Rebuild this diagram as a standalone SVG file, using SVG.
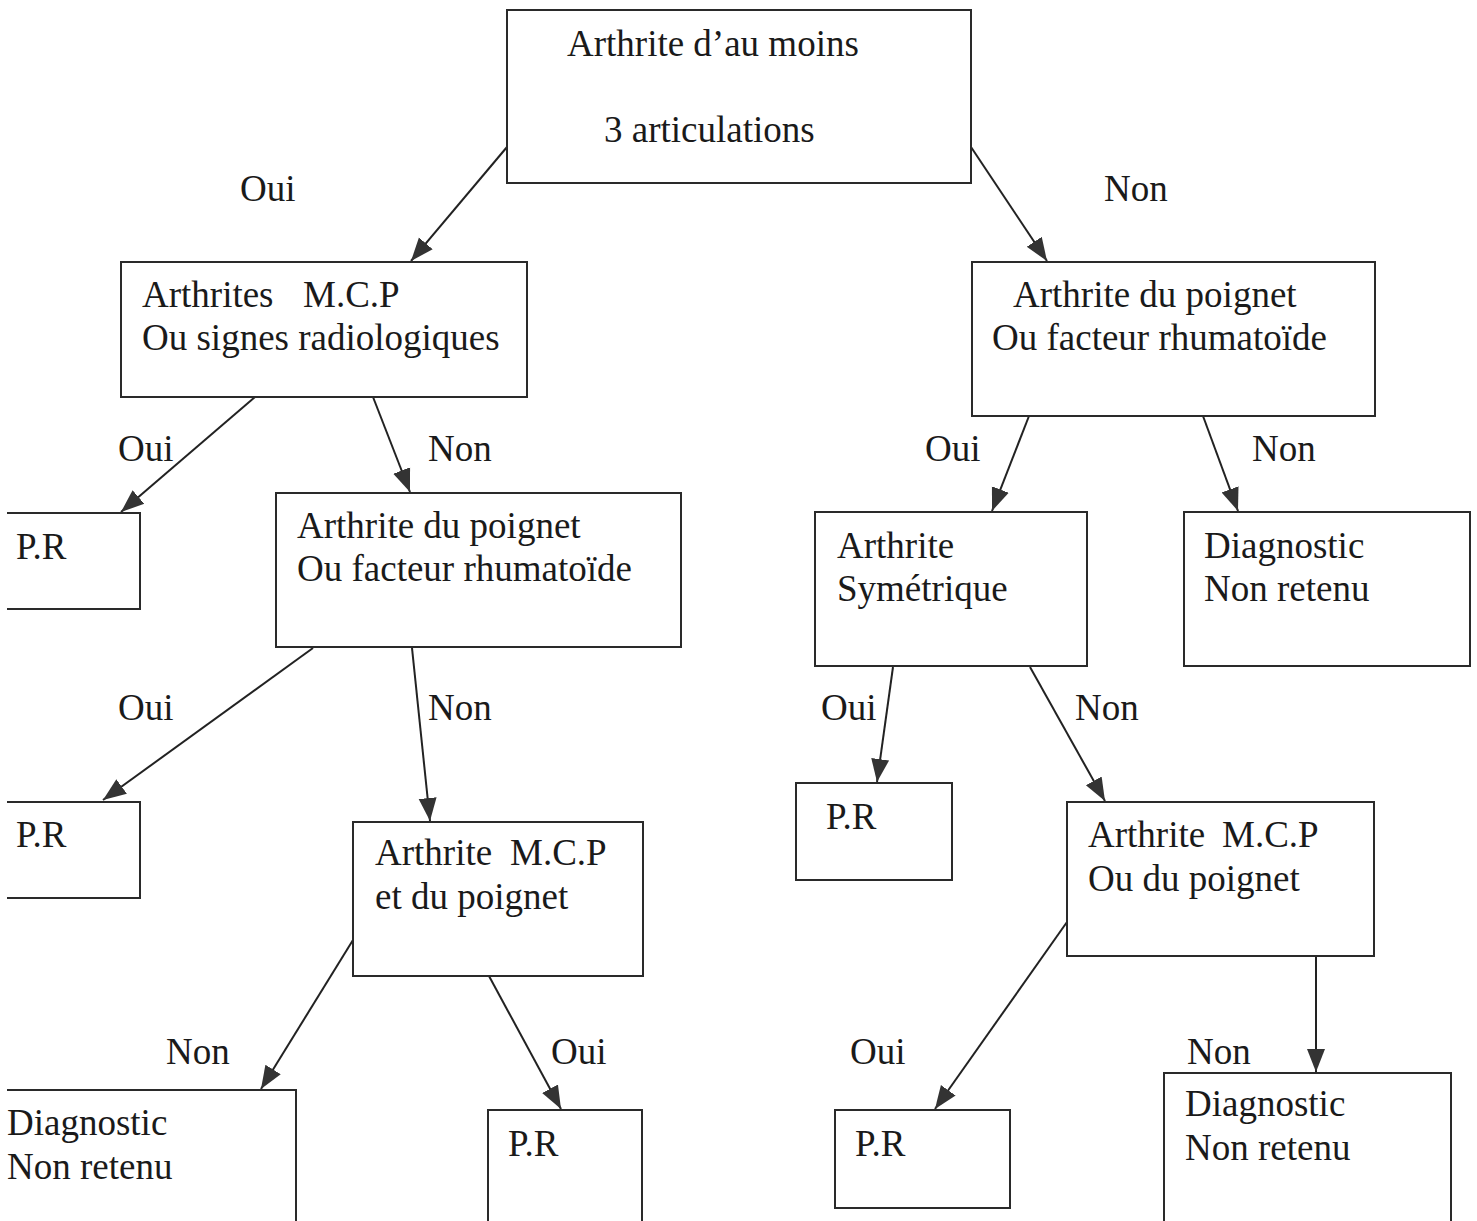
<svg xmlns="http://www.w3.org/2000/svg" width="1477" height="1221" viewBox="0 0 1477 1221">
<style>
.box{fill:#fff;stroke:#2a2a2a;stroke-width:2}
.open{fill:none;stroke:#2a2a2a;stroke-width:2}
.t{font-family:"Liberation Serif","Times New Roman",serif;font-size:37px;fill:#1a1a1a}
.c{stroke:#222;stroke-width:2;fill:none;marker-end:url(#ah)}
</style>
<defs>
<marker id="ah" markerUnits="userSpaceOnUse" markerWidth="24" markerHeight="20" viewBox="0 0 24 20" refX="23" refY="10" orient="auto">
<path d="M0,1 L23,10 L0,19 Z" fill="#333"/>
</marker>
</defs>
<rect width="1477" height="1221" fill="#fff"/>

<g id="connectors">
<line class="c" x1="507" y1="147" x2="411" y2="261"/>
<line class="c" x1="971" y1="147" x2="1047" y2="261"/>
<line class="c" x1="255" y1="397" x2="121" y2="512"/>
<line class="c" x1="373" y1="397" x2="410" y2="492"/>
<line class="c" x1="1029" y1="416" x2="992" y2="511"/>
<line class="c" x1="1203" y1="416" x2="1238" y2="511"/>
<line class="c" x1="313" y1="648" x2="103" y2="800"/>
<line class="c" x1="412" y1="648" x2="430" y2="821"/>
<line class="c" x1="893" y1="667" x2="877" y2="782"/>
<line class="c" x1="1030" y1="667" x2="1105" y2="801"/>
<line class="c" x1="353" y1="940" x2="261" y2="1089"/>
<line class="c" x1="489" y1="976" x2="561" y2="1109"/>
<line class="c" x1="1067" y1="922" x2="935" y2="1109"/>
<line class="c" x1="1316" y1="956" x2="1316" y2="1072"/>
</g>

<g id="labels">
<text class="t" x="240" y="201">Oui</text>
<text class="t" x="1104" y="201">Non</text>
<text class="t" x="118" y="461">Oui</text>
<text class="t" x="428" y="461">Non</text>
<text class="t" x="925" y="461">Oui</text>
<text class="t" x="1252" y="461">Non</text>
<text class="t" x="118" y="720">Oui</text>
<text class="t" x="428" y="720">Non</text>
<text class="t" x="821" y="720">Oui</text>
<text class="t" x="1075" y="720">Non</text>
<text class="t" x="166" y="1064">Non</text>
<text class="t" x="551" y="1064">Oui</text>
<text class="t" x="850" y="1064">Oui</text>
<text class="t" x="1187" y="1064">Non</text>
</g>

<g id="n-root">
<rect class="box" x="507" y="10" width="464" height="173"/>
<text class="t" x="567" y="56">Arthrite d’au moins</text>
<text class="t" x="604" y="142">3 articulations</text>
</g>

<g id="n-mcp">
<rect class="box" x="121" y="262" width="406" height="135"/>
<text class="t" x="142" y="307">Arthrites</text>
<text class="t" x="303" y="307">M.C.P</text>
<text class="t" x="142" y="350">Ou signes radiologiques</text>
</g>

<g id="n-poignet-r">
<rect class="box" x="972" y="262" width="403" height="154"/>
<text class="t" x="1013" y="307">Arthrite du poignet</text>
<text class="t" x="992" y="350">Ou facteur rhumatoïde</text>
</g>

<g id="n-pr1">
<path class="open" d="M7,513 H140 V609 H7"/>
<text class="t" x="16" y="559">P.R</text>
</g>

<g id="n-poignet-l">
<rect class="box" x="276" y="493" width="405" height="154"/>
<text class="t" x="297" y="538">Arthrite du poignet</text>
<text class="t" x="297" y="581">Ou facteur rhumatoïde</text>
</g>

<g id="n-sym">
<rect class="box" x="815" y="512" width="272" height="154"/>
<text class="t" x="837" y="558">Arthrite</text>
<text class="t" x="837" y="601">Symétrique</text>
</g>

<g id="n-diag1">
<rect class="box" x="1184" y="512" width="286" height="154"/>
<text class="t" x="1204" y="558">Diagnostic</text>
<text class="t" x="1204" y="601">Non retenu</text>
</g>

<g id="n-pr2">
<path class="open" d="M7,802 H140 V898 H7"/>
<text class="t" x="16" y="847">P.R</text>
</g>

<g id="n-mcp-poignet">
<rect class="box" x="353" y="822" width="290" height="154"/>
<text class="t" x="375" y="865">Arthrite</text>
<text class="t" x="510" y="865">M.C.P</text>
<text class="t" x="375" y="909">et du poignet</text>
</g>

<g id="n-pr3">
<rect class="box" x="796" y="783" width="156" height="97"/>
<text class="t" x="826" y="829">P.R</text>
</g>

<g id="n-mcp-ou">
<rect class="box" x="1067" y="802" width="307" height="154"/>
<text class="t" x="1088" y="847">Arthrite</text>
<text class="t" x="1222" y="847">M.C.P</text>
<text class="t" x="1088" y="891">Ou du poignet</text>
</g>

<g id="n-diag2">
<path class="open" d="M7,1090 H296 V1221"/>
<text class="t" x="7" y="1135">Diagnostic</text>
<text class="t" x="7" y="1179">Non retenu</text>
</g>

<g id="n-pr4">
<path class="open" d="M488,1221 V1110 H642 V1221"/>
<text class="t" x="508" y="1156">P.R</text>
</g>

<g id="n-pr5">
<rect class="box" x="835" y="1110" width="175" height="98"/>
<text class="t" x="855" y="1156">P.R</text>
</g>

<g id="n-diag3">
<path class="open" d="M1164,1221 V1073 H1451 V1221"/>
<text class="t" x="1185" y="1116">Diagnostic</text>
<text class="t" x="1185" y="1160">Non retenu</text>
</g>
</svg>
